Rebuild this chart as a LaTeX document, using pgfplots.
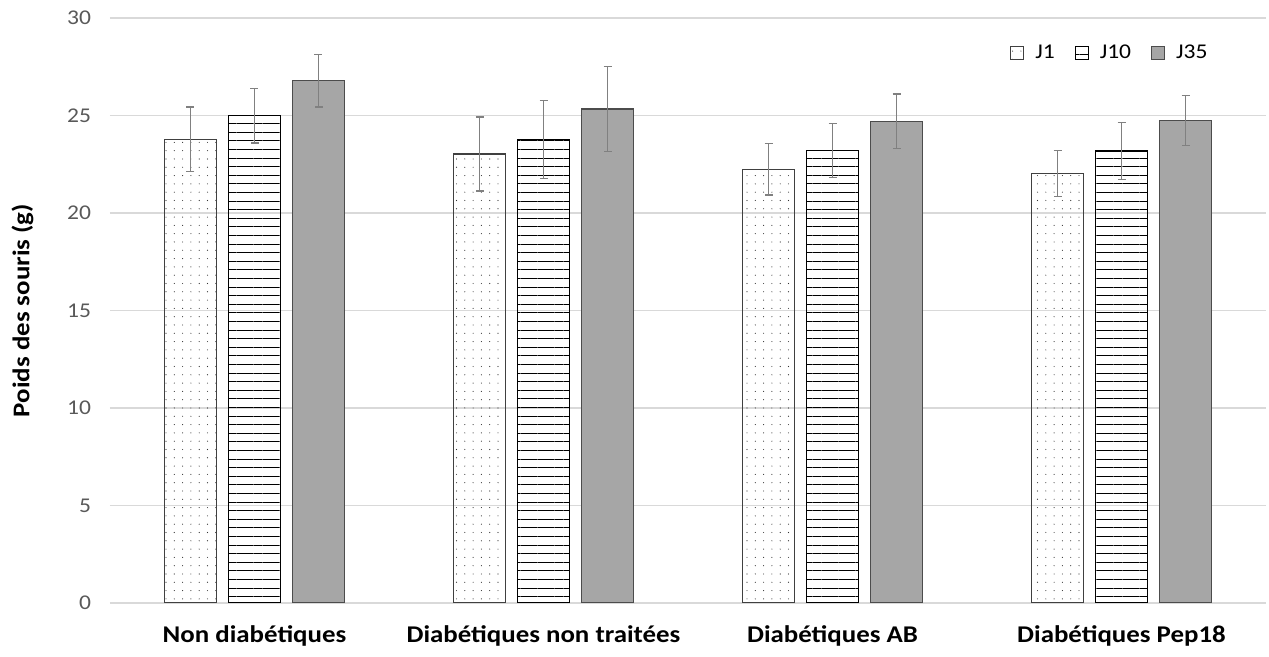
\documentclass[border=0pt]{standalone}
\usepackage{fontspec}
\setmainfont{Carlito}[FakeStretch=1.12]
\usepackage{pgfplots}
\usepackage{pgfplotstable}
\pgfplotsset{compat=1.18}
\usetikzlibrary{patterns.meta}

\pgfplotstableread{
x J1 e1 J10 e10 J35 e35
0 23.78 1.66 24.99 1.40 26.79 1.35
1 23.03 1.90 23.78 2.00 25.33 2.17
2 22.24 1.31 23.21 1.39 24.70 1.40
3 22.03 1.18 23.18 1.47 24.75 1.28
}\data

\begin{document}
\begin{tikzpicture}
\begin{axis}[
  scale only axis, width=578pt, height=292.5pt,
  ymin=0, ymax=30, ytick={0,5,...,30},
  xmin=-0.5, xmax=3.5, xtick=data,
  xticklabels={Non diabétiques, Diabétiques non traitées, Diabétiques AB, Diabétiques Pep18},
  ybar=6pt, bar width=26pt,
  axis line style={draw=none},
  major tick length=0pt,
  ymajorgrids, grid style={black!15, line width=0.6pt},
  /pgf/number format/assume math mode=true,
  yticklabel style={font=\fontsize{10.5}{12}\selectfont, text=black!65, xshift=-6pt},
  xticklabel style={font=\bfseries\fontsize{12}{14}\selectfont, yshift=-8pt},
  ylabel={Poids des souris (g)},
  ylabel style={font=\bfseries\fontsize{12}{14}\selectfont, yshift=10pt},
  legend style={at={(rel axis cs:0.7785,0.940)}, anchor=west, draw=none, fill=none,
    font=\fontsize{10.5}{12.5}\selectfont, inner sep=0pt,
    /tikz/every odd column/.append style={column sep=3.5pt},
    /tikz/every even column/.append style={column sep=8pt}},
  legend columns=3,
  legend image code/.code={\draw[#1, line width=0.5pt] (0pt,-3.25pt) rectangle (6.5pt,3.25pt);},
  error bars/y dir=both, error bars/y explicit,
  error bars/error bar style={color=black!50, line width=0.7pt},
  error bars/error mark options={rotate=90, mark size=2pt, line width=0.7pt, color=black!50},
]
\addplot[draw=black!75, line width=0.6pt, pattern={Dots[distance=4.15pt, radius=0.28pt]}, pattern color=black!80]
  table[x=x, y=J1, y error=e1]{\data};
\addplot[draw=black, line width=0.6pt, pattern={Lines[angle=0, distance=4.3pt, line width=0.5pt]}, pattern color=black]
  table[x=x, y=J10, y error=e10]{\data};
\addplot[draw=black!70, line width=0.6pt, fill=black!35]
  table[x=x, y=J35, y error=e35]{\data};
\legend{J1, J10, J35}
\end{axis}
\pgfresetboundingbox
\path[use as bounding box] ([xshift=-55pt,yshift=-27pt]current axis.south west) rectangle ([xshift=1.5pt,yshift=9pt]current axis.north east);
\end{tikzpicture}
\end{document}
